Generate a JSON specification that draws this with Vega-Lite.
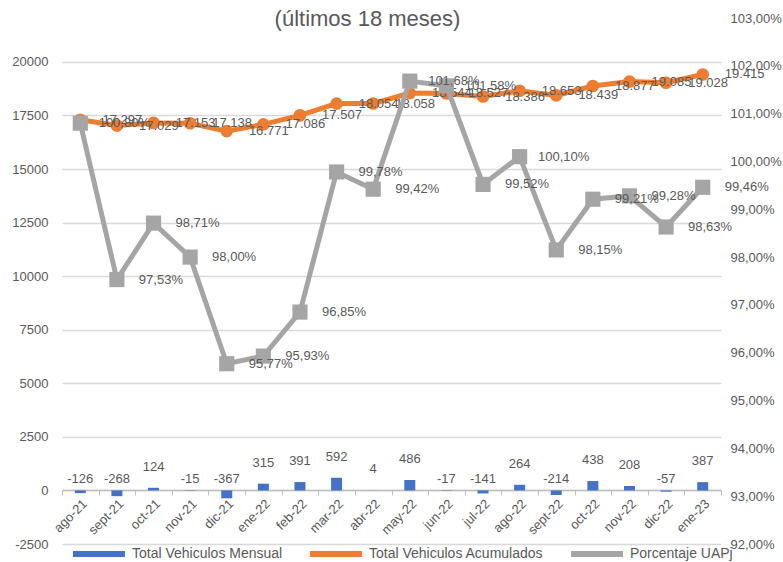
{
  "$schema": "https://vega.github.io/schema/vega-lite/v6.json",
  "width": 659,
  "height": 526,
  "autosize": "none",
  "padding": {"left": 62, "top": 18, "right": 62, "bottom": 18},
  "background": "white",
  "title": {
    "text": "(últimos 18 meses)",
    "fontSize": 22,
    "fontWeight": "normal",
    "color": "#595959",
    "font": "Liberation Sans",
    "anchor": "middle",
    "dx": -24,
    "offset": -19
  },
  "config": {
    "view": {"stroke": null},
    "font": "Liberation Sans",
    "locale": {"number": {"decimal": ",", "thousands": ".", "grouping": [3], "currency": ["", " €"], "minus": "-", "percent": "%"}},
    "text": {"font": "Liberation Sans", "fontSize": 13, "color": "#595959"}
  },
  "data": {
    "values": [
      {"mes": "ago-21", "mensual": -126, "acumulado": 17297, "porcentaje": 1.0080},
      {"mes": "sept-21", "mensual": -268, "acumulado": 17029, "porcentaje": 0.9753},
      {"mes": "oct-21", "mensual": 124, "acumulado": 17153, "porcentaje": 0.9871},
      {"mes": "nov-21", "mensual": -15, "acumulado": 17138, "porcentaje": 0.9800},
      {"mes": "dic-21", "mensual": -367, "acumulado": 16771, "porcentaje": 0.9577},
      {"mes": "ene-22", "mensual": 315, "acumulado": 17086, "porcentaje": 0.9593},
      {"mes": "feb-22", "mensual": 391, "acumulado": 17507, "porcentaje": 0.9685},
      {"mes": "mar-22", "mensual": 592, "acumulado": 18054, "porcentaje": 0.9978},
      {"mes": "abr-22", "mensual": 4, "acumulado": 18058, "porcentaje": 0.9942},
      {"mes": "may-22", "mensual": 486, "acumulado": 18544, "porcentaje": 1.0168},
      {"mes": "jun-22", "mensual": -17, "acumulado": 18527, "porcentaje": 1.0158},
      {"mes": "jul-22", "mensual": -141, "acumulado": 18386, "porcentaje": 0.9952},
      {"mes": "ago-22", "mensual": 264, "acumulado": 18653, "porcentaje": 1.0010},
      {"mes": "sept-22", "mensual": -214, "acumulado": 18439, "porcentaje": 0.9815},
      {"mes": "oct-22", "mensual": 438, "acumulado": 18877, "porcentaje": 0.9921},
      {"mes": "nov-22", "mensual": 208, "acumulado": 19085, "porcentaje": 0.9928},
      {"mes": "dic-22", "mensual": -57, "acumulado": 19028, "porcentaje": 0.9863},
      {"mes": "ene-23", "mensual": 387, "acumulado": 19415, "porcentaje": 0.9946}
    ]
  },
  "encoding": {
    "x": {
      "field": "mes",
      "type": "ordinal",
      "sort": null,
      "scale": {"paddingInner": 0, "paddingOuter": 0},
      "axis": {
        "title": null,
        "offset": -54,
        "labelAngle": -45,
        "labelAlign": "right",
        "labelBaseline": "top",
        "labelFontSize": 13,
        "labelColor": "#595959",
        "labelPadding": 2,
        "domainColor": "#bfbfbf",
        "domainWidth": 1.5,
        "tickColor": "#bfbfbf",
        "tickBand": "extent",
        "tickSize": 5,
        "grid": false
      }
    },
    "color": {
      "datum": "Total Vehiculos Mensual",
      "scale": {
        "domain": ["Total Vehiculos Mensual", "Total Vehiculos Acumulados", "Porcentaje UAPj"],
        "range": ["#4472C4", "#ED7D31", "#A5A5A5"]
      },
      "legend": {
        "title": null,
        "orient": "none",
        "legendX": 25,
        "legendY": 524,
        "direction": "horizontal",
        "gridAlign": "each",
        "symbolType": "M-3,0H3",
        "symbolSize": 300,
        "symbolStrokeWidth": 6,
        "labelFontSize": 14,
        "labelLimit": 0,
        "labelColor": "#595959",
        "labelFont": "Liberation Sans",
        "columnPadding": 15,
        "labelOffset": 21,
        "encode": {
          "symbols": {"update": {"stroke": {"scale": "color", "field": "value"}, "strokeWidth": {"value": 6}}}
        }
      }
    }
  },
  "layer": [
    {
      "layer": [
        {
          "mark": {"type": "bar", "size": 11, "color": "#4472C4"},
          "encoding": {
            "y": {
              "field": "mensual",
              "type": "quantitative",
              "scale": {"domain": [-2500, 22050], "nice": false, "zero": false},
              "axis": {
                "title": null,
                "orient": "left",
                "values": [-2500, 0, 2500, 5000, 7500, 10000, 12500, 15000, 17500, 20000],
                "format": "d",
                "grid": true,
                "gridColor": "#d9d9d9",
                "gridWidth": 1.5,
                "domain": false,
                "ticks": false,
                "labelFontSize": 13,
                "labelColor": "#595959",
                "labelPadding": 14
              }
            }
          }
        },
        {
          "transform": [{"filter": "datum.mensual >= 0"}],
          "mark": {"type": "text", "dy": -21, "baseline": "middle"},
          "encoding": {
            "y": {"field": "mensual", "type": "quantitative"},
            "text": {"field": "mensual", "type": "quantitative", "format": "d"},
            "color": {"value": "#595959"}
          }
        },
        {
          "transform": [{"filter": "datum.mensual < 0"}],
          "mark": {"type": "text", "dy": -11, "baseline": "middle"},
          "encoding": {
            "y": {"datum": 0, "type": "quantitative"},
            "text": {"field": "mensual", "type": "quantitative", "format": "d"},
            "color": {"value": "#595959"}
          }
        },
        {
          "mark": {"type": "line", "strokeWidth": 5, "point": {"filled": true, "size": 160}},
          "encoding": {
            "y": {"field": "acumulado", "type": "quantitative"},
            "color": {"datum": "Total Vehiculos Acumulados"}
          }
        },
        {
          "mark": {"type": "text", "dx": 42, "baseline": "middle", "align": "center"},
          "encoding": {
            "y": {"field": "acumulado", "type": "quantitative"},
            "text": {"field": "acumulado", "type": "quantitative", "format": ",.0f"},
            "color": {"value": "#595959"}
          }
        }
      ]
    },
    {
      "layer": [
        {
          "mark": {"type": "line", "strokeWidth": 5, "point": {"filled": true, "size": 230, "shape": "square"}},
          "encoding": {
            "y": {
              "field": "porcentaje",
              "type": "quantitative",
              "scale": {"domain": [0.92, 1.03], "nice": false, "zero": false},
              "axis": {
                "title": null,
                "orient": "right",
                "values": [0.92, 0.93, 0.94, 0.95, 0.96, 0.97, 0.98, 0.99, 1.0, 1.01, 1.02, 1.03],
                "format": ".2%",
                "grid": false,
                "domain": false,
                "ticks": false,
                "labelFontSize": 13,
                "labelColor": "#595959",
                "labelPadding": 9
              }
            },
            "color": {"datum": "Porcentaje UAPj"}
          }
        },
        {
          "mark": {"type": "text", "dx": 44, "baseline": "middle", "align": "center"},
          "encoding": {
            "y": {"field": "porcentaje", "type": "quantitative"},
            "text": {"field": "porcentaje", "type": "quantitative", "format": ".2%"},
            "color": {"value": "#595959"}
          }
        }
      ]
    }
  ],
  "resolve": {"scale": {"y": "independent"}}
}
